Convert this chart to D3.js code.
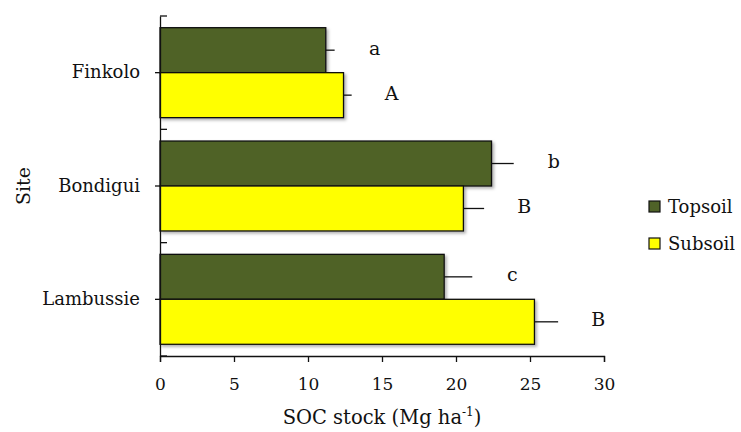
<!DOCTYPE html>
<html>
<head>
<meta charset="utf-8">
<script src="https://cdn.jsdelivr.net/npm/d3@7"></script>
<style>
  body { margin: 0; background: #fff; }
  text { font-family: "DejaVu Serif", "Liberation Serif", serif; fill: #111; }
</style>
</head>
<body>
<div class="chartBox"></div>
<script>
// data
var sites = ['Finkolo', 'Bondigui', 'Lambussie'];
var layers = ['Topsoil', 'Subsoil'];
var topsoil = [11.2, 22.4, 19.2];
var subsoil = [12.4, 20.5, 25.3];
var topErr = [0.6, 1.5, 1.9];
var subErr = [0.55, 1.4, 1.6];
var topLetters = ['a', 'b', 'c'];
var subLetters = ['A', 'B', 'B'];
var xTicks = [0, 5, 10, 15, 20, 25, 30];

var colors = { Topsoil: '#4F6228', Subsoil: '#FFFF00' };

var w = 741, h = 432;
var margin = { top: 16, right: 137, bottom: 76, left: 160 };

var svg = d3.select('div.chartBox')
  .append('svg')
  .attr('width', w)
  .attr('height', h);

var defs = svg.append('defs');
var f = defs.append('filter').attr('id', 'shadow')
  .attr('x', '-5%').attr('y', '-5%').attr('width', '115%').attr('height', '130%');
f.append('feDropShadow')
  .attr('dx', 2).attr('dy', 2).attr('stdDeviation', 1.5)
  .attr('flood-color', '#000').attr('flood-opacity', 0.3);

var x = d3.scaleLinear().domain([0, 30]).range([margin.left, w - margin.right]);
var y = d3.scaleBand().domain(sites).range([margin.top, h - margin.bottom]).paddingInner(0).paddingOuter(0);
var inner = d3.scaleBand().domain(layers).range([0, y.bandwidth()]).paddingOuter(0.26).paddingInner(0);

// rows: one per bar
var rows = [];
sites.forEach(function(s, i) {
  rows.push({ site: s, layer: 'Topsoil', v: topsoil[i], e: topErr[i], lab: topLetters[i] });
  rows.push({ site: s, layer: 'Subsoil', v: subsoil[i], e: subErr[i], lab: subLetters[i] });
});

function barY(d) { return y(d.site) + inner(d.layer); }

var g = svg.append('g');

g.selectAll('rect.bar')
  .data(rows)
  .enter()
  .append('rect')
  .attr('class', 'bar')
  .attr('x', x(0))
  .attr('y', barY)
  .attr('width', function(d) { return x(d.v) - x(0); })
  .attr('height', inner.bandwidth())
  .attr('fill', function(d) { return colors[d.layer]; })
  .attr('stroke', '#111')
  .attr('stroke-width', 1.3)
  .attr('filter', 'url(#shadow)');

// error bars, plus side only
g.selectAll('line.err')
  .data(rows)
  .enter()
  .append('line')
  .attr('x1', function(d) { return x(d.v); })
  .attr('x2', function(d) { return x(d.v + d.e); })
  .attr('y1', function(d) { return barY(d) + inner.bandwidth() / 2; })
  .attr('y2', function(d) { return barY(d) + inner.bandwidth() / 2; })
  .attr('stroke', '#111')
  .attr('stroke-width', 1.3);

// significance letters
g.selectAll('text.lab')
  .data(rows)
  .enter()
  .append('text')
  .attr('x', function(d) { return x(d.v + d.e) + 40; })
  .attr('y', function(d) { return barY(d) + inner.bandwidth() / 2 - 2; })
  .attr('dy', '0.35em')
  .attr('text-anchor', 'middle')
  .style('font-size', '19px')
  .text(function(d) { return d.lab; });

// x axis
var xAxis = svg.append('g')
  .attr('transform', 'translate(0,' + (h - margin.bottom) + ')')
  .call(d3.axisBottom(x).tickValues(xTicks).tickSize(6).tickPadding(16));
xAxis.select('.domain').attr('stroke', '#111').attr('stroke-width', 1.3);
xAxis.selectAll('.tick line').attr('stroke', '#111').attr('stroke-width', 1.3);
xAxis.selectAll('.tick text').style('font-size', '17px').style('font-family', '"DejaVu Serif", serif').attr('fill', '#111');

// y axis
var yAxis = svg.append('g')
  .attr('transform', 'translate(' + margin.left + ',0)')
  .call(d3.axisLeft(y).tickSize(5).tickSizeOuter(0).tickPadding(15));
yAxis.select('.domain').attr('stroke', '#111').attr('stroke-width', 1.3);
yAxis.selectAll('.tick line').attr('stroke', '#111').attr('stroke-width', 1.3);
yAxis.selectAll('.tick text').style('font-size', '18px').style('font-family', '"DejaVu Serif", serif').attr('fill', '#111');

// boundary ticks on the inside
var bounds = sites.map(function(s) { return y(s); }).concat([y.range()[1]]);
svg.selectAll('line.bound')
  .data(bounds)
  .enter()
  .append('line')
  .attr('x1', margin.left)
  .attr('x2', margin.left + 7)
  .attr('y1', function(d) { return d; })
  .attr('y2', function(d) { return d; })
  .attr('stroke', '#111')
  .attr('stroke-width', 1.3);

// axis titles
var xt = svg.append('text')
  .attr('x', (x.range()[0] + x.range()[1]) / 2)
  .attr('y', 424)
  .attr('text-anchor', 'middle')
  .style('font-size', '19.5px');
xt.append('tspan').text('SOC stock (Mg ha');
xt.append('tspan').attr('dy', -8).style('font-size', '12px').text('-1');
xt.append('tspan').attr('dy', 8).text(')');

svg.append('text')
  .attr('transform', 'translate(30,' + ((y.range()[0] + y.range()[1]) / 2) + ') rotate(-90)')
  .attr('text-anchor', 'middle')
  .style('font-size', '19px')
  .text('Site');

// legend
var leg = svg.selectAll('g.leg')
  .data(layers)
  .enter()
  .append('g')
  .attr('transform', function(d, i) { return 'translate(649,' + (201 + i * 37) + ')'; });
leg.append('rect')
  .attr('width', 11).attr('height', 11)
  .attr('fill', function(d) { return colors[d]; })
  .attr('stroke', '#111').attr('stroke-width', 1.2);
leg.append('text')
  .attr('x', 19).attr('y', 6).attr('dy', '0.35em')
  .style('font-size', '18px')
  .text(function(d) { return d; });
</script>
</body>
</html>
